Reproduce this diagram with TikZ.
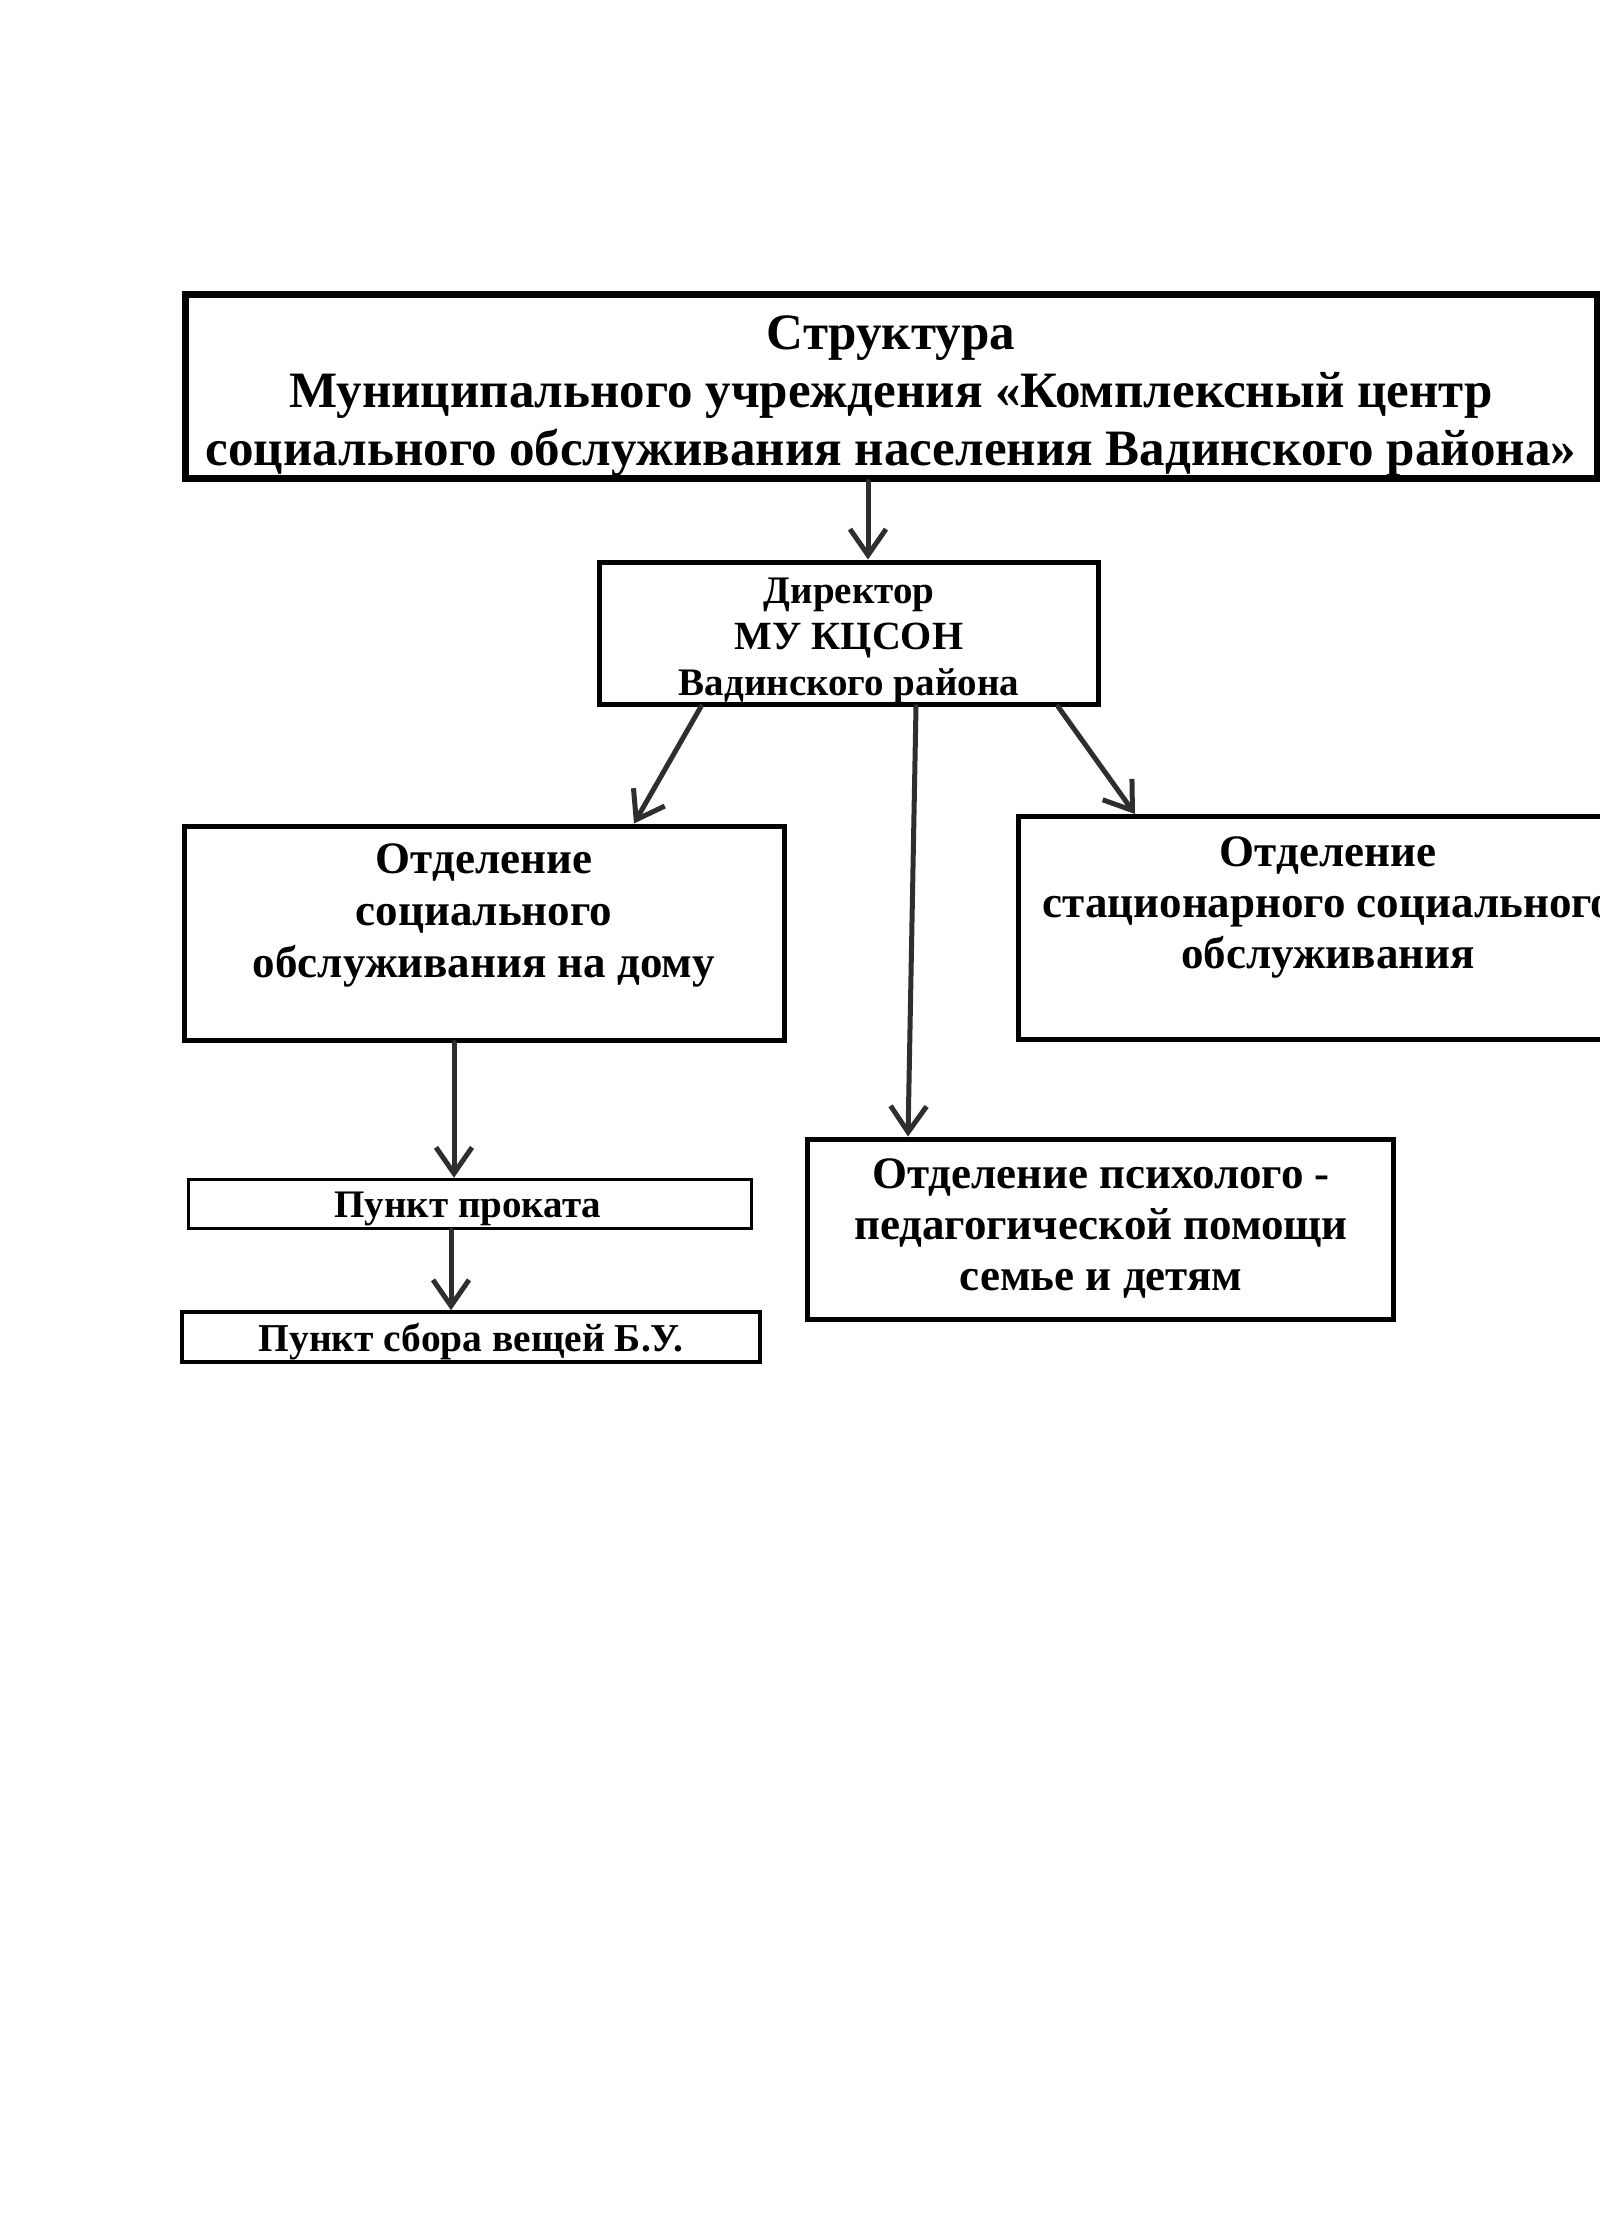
\documentclass[tikz,border=0pt]{standalone}
\usepackage{fontspec}
\setmainfont{Liberation Serif}
\usetikzlibrary{arrows.meta}
\tikzset{
  box/.style={draw=black, line width=5pt, minimum width=#1, inner sep=0pt},
  lbl/.style={align=center, inner sep=0pt, font=\bfseries},
  conn/.style={draw=black!82, line width=5pt, line cap=round,
    -{Straight Barb[length=26pt,width=36pt,line width=5pt]}},
}
\begin{document}
\begin{tikzpicture}[x=1pt,y=-1pt]
\useasboundingbox (0,0) rectangle (1600,2224);
\fill[white] (0,0) rectangle (1600,2224);
% boxes
\node[box=1412pt, line width=7pt, minimum height=184pt] (title) at (891,386) {};
\node[box=499pt, line width=5pt, minimum height=142pt] (dir) at (849,633) {};
\node[box=600pt, minimum height=214pt] (left) at (484,933) {};
\node[box=620pt, minimum height=223pt] (right) at (1328,928) {};
\node[box=586pt, minimum height=180pt] (psy) at (1100,1229) {};
\node[box=563pt, line width=3.5pt, minimum height=49pt] (prok) at (470,1204) {};
\node[box=578pt, line width=3.5pt, minimum height=50pt] (sbor) at (471,1337) {};
% texts
\node[lbl, font=\bfseries\fontsize{51}{58}\selectfont] (titlet) at (891,396)
  {Структура\\Муниципального учреждения «Комплексный центр\\социального обслуживания населения Вадинского района»};
\node[lbl, font=\bfseries\fontsize{39}{46}\selectfont] (dirt) at (849,641)
  {Директор\\{\fontsize{40}{46}\selectfont МУ КЦСОН}\\Вадинского района};
\node[lbl, font=\bfseries\fontsize{45}{52}\selectfont] (leftt) at (484,915)
  {Отделение\\социального\\обслуживания на дому};
\node[lbl, font=\bfseries\fontsize{45}{51}\selectfont] (rightt) at (1328,907)
  {Отделение\\стационарного социального\\обслуживания};
\node[lbl, font=\bfseries\fontsize{45}{51}\selectfont] (psyt) at (1101,1228)
  {Отделение психолого -\\педагогической помощи\\семье и детям};
\node[lbl, font=\bfseries\fontsize{39}{44}\selectfont] (prokt) at (468,1209) {Пункт проката};
\node[lbl, font=\bfseries\fontsize{39.5}{44}\selectfont] (sbort) at (471,1342) {Пункт сбора вещей Б.У.};
% connectors
\draw[conn] (title.south -| 868,0) -- (dir.north -| 868,0);
\draw[conn] (dir.south -| 701,0) -- (left.north -| 634,0);
\draw[conn] (dir.south -| 916,0) -- (psy.north -| 908,0);
\draw[conn] (dir.south -| 1058,0) -- (right.north -| 1135,0);
\draw[conn] (left.south -| 454,0) -- (prok.north -| 454,0);
\draw[conn] (prok.south -| 451,0) -- (sbor.north -| 451,0);
\end{tikzpicture}
\end{document}
